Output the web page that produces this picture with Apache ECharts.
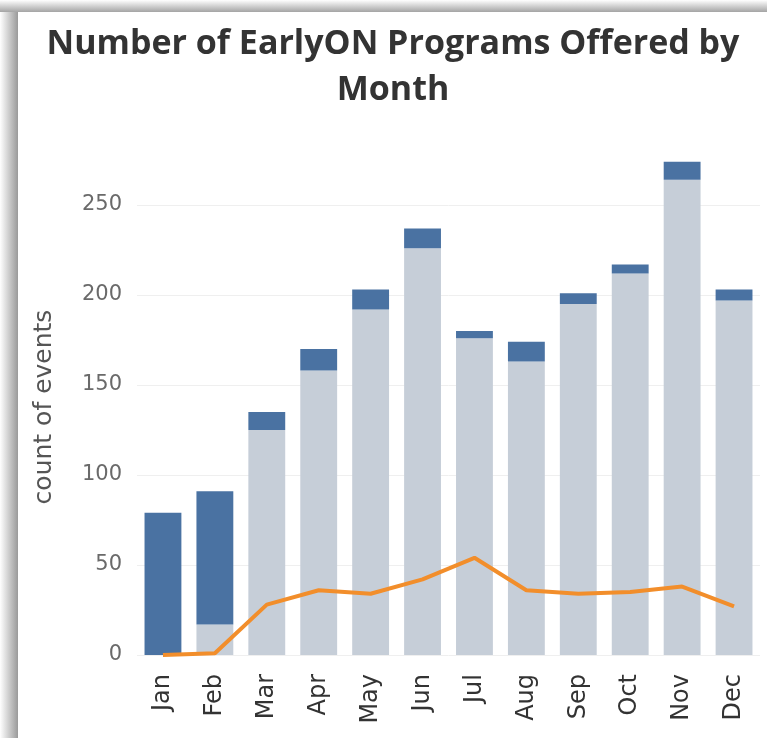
<!DOCTYPE html>
<html>
<head>
<meta charset="utf-8">
<script src="https://cdn.jsdelivr.net/npm/echarts@6/dist/echarts.min.js"></script>
<style>
html,body{margin:0;padding:0;background:#fff;}
#chart{width:767px;height:738px;}
</style>
</head>
<body>
<div id="chart"></div>
<script>
var months = ['Jan','Feb','Mar','Apr','May','Jun','Jul','Aug','Sep','Oct','Nov','Dec'];
var lightValues = [0, 17, 125, 158, 192, 226, 176, 163, 195, 212, 264, 197];
var darkValues  = [79, 74, 10, 12, 11, 11, 4, 11, 6, 5, 10, 6];
var lineValues  = [0, 1, 28, 36, 34, 42, 54, 36, 34, 35, 38, 27];

var chart = echarts.init(document.getElementById('chart'));
chart.setOption({
  animation: false,
  backgroundColor: '#fff',
  title: {
    text: 'Number of EarlyON Programs Offered by\nMonth',
    left: 388,
    top: 16,
    textAlign: 'center',
    textStyle: {
      fontFamily: 'Open Sans',
      fontWeight: 'bold',
      fontSize: 34,
      color: '#333',
      lineHeight: 46
    }
  },
  graphic: [
    {type:'rect', shape:{x:0,y:0,width:18,height:738}, silent:true, z:100,
     style:{fill:new echarts.graphic.LinearGradient(0,0,1,0,[{offset:0,color:'#ffffff'},{offset:1,color:'#9a9a9a'}])}},
    {type:'rect', shape:{x:0,y:0,width:767,height:12}, silent:true, z:100,
     style:{fill:new echarts.graphic.LinearGradient(0,0,0,1,[{offset:0,color:'#ffffff'},{offset:1,color:'#a4a4a4'}])}}
  ],
  grid: { left: 137, right: 7, top: 205, bottom: 83 },
  xAxis: {
    type: 'category',
    data: months,
    axisLine: {show:false},
    axisTick: {show:false},
    axisLabel: {
      rotate: 90,
      margin: 19,
      fontFamily: 'DejaVu Sans',
      fontSize: 24,
      color: '#333'
    }
  },
  yAxis: {
    type: 'value',
    min: 0,
    max: 250,
    interval: 50,
    name: 'count of events',
    nameLocation: 'middle',
    nameGap: 80,
    nameTextStyle: { fontFamily: 'DejaVu Sans', fontSize: 25, color: '#555', padding: [0,0,0,46] },
    axisLine: {show:false},
    axisTick: {show:false},
    axisLabel: { margin: 15, fontFamily: 'DejaVu Sans', fontSize: 21, color: '#6a6a6a' },
    splitLine: { lineStyle: { color: '#efefef', width: 1 } }
  },
  series: [
    { type:'bar', stack:'a', data: lightValues, barCategoryGap: '29%', clip:false,
      itemStyle:{color:'#c6ced8'} },
    { type:'bar', stack:'a', data: darkValues, clip:false,
      itemStyle:{color:'#4a72a2'} },
    { type:'line', data: lineValues, symbol:'none', z:5,
      lineStyle:{color:'#f28e2b', width:4} }
  ]
});
</script>
</body>
</html>
